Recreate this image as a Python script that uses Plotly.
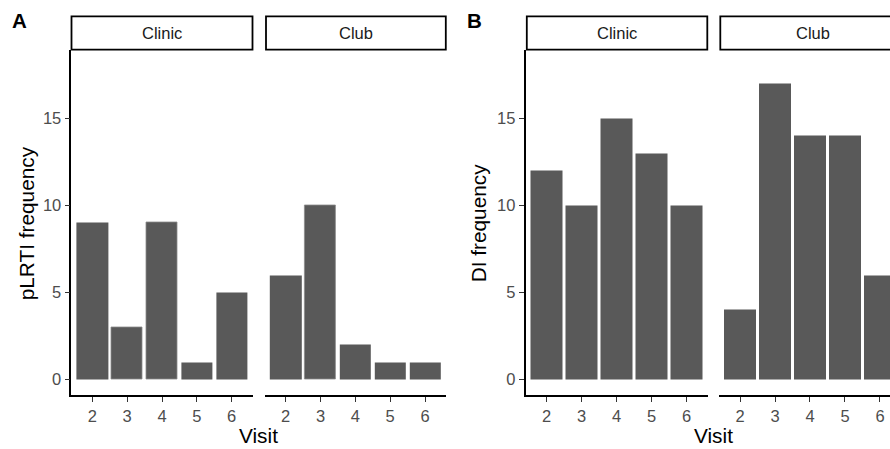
import plotly.graph_objects as go

# ---- data ----
visits = [2, 3, 4, 5, 6]
facets = ["Clinic", "Club"]
plrti_clinic = [9, 3, 9, 1, 5]
plrti_club = [6, 10, 2, 1, 1]
di_clinic = [12, 10, 15, 13, 10]
di_club = [4, 17, 14, 14, 6]
y_ticks = [0, 5, 10, 15]
panel_labels = ["A", "B"]
y_titles = ["pLRTI frequency", "DI frequency"]
x_title = "Visit"

W, H = 890, 449
FONT = "Liberation Sans, Arial, Helvetica, sans-serif"
BAR = "#595959"
EDGE = "#8c8c8c"

# faint outline seen on a few bars of panel A (style only)
edge_widths = [
    [0, 0.8, 0.8, 0, 0],
    [0, 0.8, 0, 0, 0],
    [0, 0, 0, 0, 0],
    [0, 0, 0, 0, 0],
]


def xd(a, b):
    return [max(0, a / W), min(1, b / W)]


def yd(top, bottom):
    return [1 - bottom / H, 1 - top / H]


fig = go.Figure()

# panel geometry (pixels): (x_left, x_right_visible, x_range_max)
panels = [
    ("x", "y", plrti_clinic, 71.4, 252.6, 6.6),
    ("x2", "y2", plrti_club, 264.8, 445.9, 6.6),
    ("x3", "y3", di_clinic, 525.5, 707.6, 6.6),
    ("x4", "y4", di_club, 719.0, 890.0, 6.286),
]

for i, (xa, ya, vals, x0, x1, xmax) in enumerate(panels):
    fig.add_trace(go.Bar(x=visits, y=vals, width=0.9, marker_color=BAR,
                         marker_line_width=edge_widths[i],
                         marker_line_color=EDGE, xaxis=xa, yaxis=ya,
                         showlegend=False, hoverinfo="skip"))
    sfx = "" if i == 0 else str(i + 1)
    fig.layout["xaxis" + sfx] = dict(
        domain=xd(x0, x1), range=[1.4, xmax], anchor=ya,
        tickvals=visits, ticktext=[str(v) for v in visits],
        showline=True, linecolor="black", linewidth=1.6,
        ticks="outside", ticklen=5, tickwidth=1.2, tickcolor="#333333",
        tickfont=dict(family=FONT, size=16.5, color="#4D4D4D"),
        showgrid=False, zeroline=False, fixedrange=True)
    left_panel = i in (0, 2)
    fig.layout["yaxis" + sfx] = dict(
        domain=yd(50.4, 395.0), range=[-0.9, 18.9], anchor=xa,
        tickvals=y_ticks, ticktext=[str(v) for v in y_ticks],
        showline=left_panel, linecolor="black", linewidth=1.6,
        ticks="outside" if left_panel else "", ticklen=5, tickwidth=1.2,
        tickcolor="#333333", showticklabels=left_panel,
        tickfont=dict(family=FONT, size=16.5, color="#4D4D4D"),
        showgrid=False, zeroline=False, fixedrange=True)

shapes = []
annotations = []
strips = [(71.5, 252.5, facets[0]), (266.0, 445.8, facets[1]),
          (526.8, 707.3, facets[0]), (720.3, 906.0, facets[1])]
strip_centers = [None, None, None, 813.0]
for j, (a, b, lab) in enumerate(strips):
    shapes.append(dict(type="rect", xref="paper", yref="paper",
                       x0=a / W, x1=b / W, y0=1 - 49.7 / H, y1=1 - 16.3 / H,
                       line=dict(color="black", width=1.8), fillcolor="white",
                       layer="above"))
    cx = (a + b) / 2 if strip_centers[j] is None else strip_centers[j]
    annotations.append(dict(text=lab, xref="paper", yref="paper",
                            x=cx / W, y=1 - 33.0 / H, showarrow=False,
                            xanchor="center", yanchor="middle",
                            font=dict(family=FONT, size=16.5, color="#1A1A1A")))

# axis titles
for cx in (258.5, 713.0):
    annotations.append(dict(text=x_title, xref="paper", yref="paper",
                            x=cx / W, y=1 - 435.7 / H, showarrow=False,
                            xanchor="center", yanchor="middle",
                            font=dict(family=FONT, size=20.8, color="black")))
for cx, t in zip((26.3, 478.3), y_titles):
    annotations.append(dict(text=t, xref="paper", yref="paper",
                            x=cx / W, y=1 - 223.0 / H, showarrow=False,
                            textangle=-90, xanchor="center", yanchor="middle",
                            font=dict(family=FONT, size=20.8, color="black")))
# panel labels
for cx, t in zip((19.5, 474.0), panel_labels):
    annotations.append(dict(text="<b>%s</b>" % t, xref="paper", yref="paper",
                            x=cx / W, y=1 - 20.5 / H, showarrow=False,
                            xanchor="center", yanchor="middle",
                            font=dict(family=FONT, size=20.5, color="black")))

fig.update_layout(width=W, height=H, margin=dict(l=0, r=0, t=0, b=0),
                  paper_bgcolor="white", plot_bgcolor="white",
                  bargap=0, shapes=shapes, annotations=annotations,
                  font=dict(family=FONT))

fig.write_html("out.html", config={"displayModeBar": False},
               post_script="document.body.style.margin='0';"
                           "document.body.style.overflow='hidden';")
